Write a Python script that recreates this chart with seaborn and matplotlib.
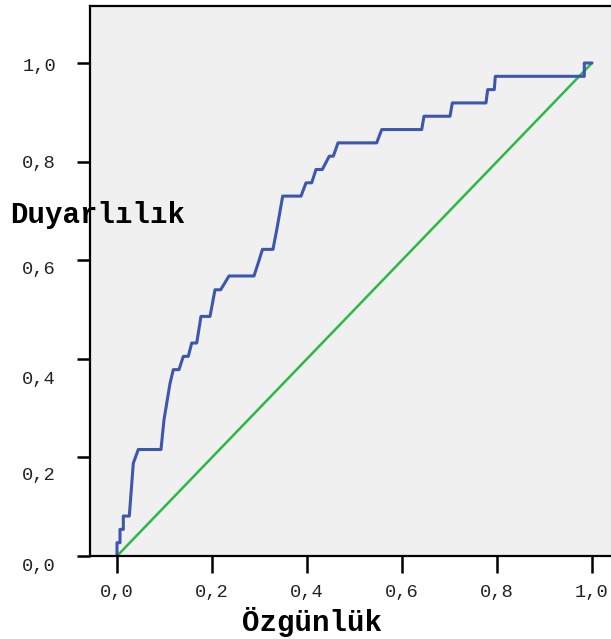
import pandas as pd
import matplotlib.pyplot as plt
import matplotlib.transforms as mtransforms
import seaborn as sns

# ROC curve points (1 - specificity, sensitivity)
fpr = [0.0, 0.0, 0.0063, 0.0063, 0.0133, 0.0133, 0.0259, 0.0343, 0.0448, 0.0926,
       0.0989, 0.1116, 0.1185, 0.1305, 0.1396, 0.1501, 0.1573, 0.1678, 0.1768, 0.1958,
       0.2063, 0.2183, 0.2358, 0.2884, 0.2975, 0.3063, 0.3284, 0.3375, 0.3488, 0.3874,
       0.3979, 0.4099, 0.4189, 0.4322, 0.4469, 0.4554, 0.4653, 0.5467, 0.5573, 0.6415,
       0.6463, 0.7011, 0.7059, 0.7768, 0.7804, 0.7943, 0.7964, 0.9838, 0.9838, 1.0]
tpr = [0.0, 0.027, 0.027, 0.054, 0.054, 0.081, 0.081, 0.188, 0.216, 0.216,
       0.276, 0.350, 0.378, 0.378, 0.405, 0.405, 0.432, 0.432, 0.486, 0.486,
       0.540, 0.540, 0.568, 0.568, 0.595, 0.622, 0.622, 0.668, 0.730, 0.730,
       0.757, 0.757, 0.784, 0.784, 0.811, 0.811, 0.838, 0.838, 0.865, 0.865,
       0.892, 0.892, 0.919, 0.919, 0.946, 0.946, 0.973, 0.973, 1.0, 1.0]
ref_x = [0.0, 1.0]
ref_y = [0.0, 1.0]

ticks = [0.0, 0.2, 0.4, 0.6, 0.8, 1.0]
tick_labels = ['0,0', '0,2', '0,4', '0,6', '0,8', '1,0']

roc = pd.DataFrame({'fpr': fpr, 'tpr': tpr})
ref = pd.DataFrame({'x': ref_x, 'y': ref_y})

sns.set_style('white')
plt.rcParams['font.family'] = ['Liberation Mono', 'DejaVu Sans Mono']

fig = plt.figure(figsize=(6.11, 6.39), dpi=100)
ax = fig.add_axes([90 / 611, 83 / 639, 1 - 90 / 611, 550 / 639])
ax.set_facecolor('#f0f0f0')

sns.lineplot(data=ref, x='x', y='y', sort=False, estimator=None,
             color='#2cb845', linewidth=1.8, ax=ax)
sns.lineplot(data=roc, x='fpr', y='tpr', sort=False, estimator=None,
             color='#3d56ae', linewidth=2.2, ax=ax)

ax.set_xlim(-27 / 475, 494 / 475)
ax.set_ylim(0, 550 / 493)

ax.set_xticks(ticks)
ax.set_xticklabels(tick_labels)
ax.set_yticks(ticks)
ax.set_yticklabels(tick_labels)
ax.set_xlabel('')
ax.set_ylabel('')

for side in ['left', 'bottom', 'top']:
    ax.spines[side].set_color('black')
    ax.spines[side].set_linewidth(1.6)
ax.spines['right'].set_visible(False)

ax.tick_params(axis='x', direction='out', length=12, width=1.8, pad=8,
               labelsize=13.5, colors='black', labelcolor='#222222', bottom=True)
ax.tick_params(axis='y', direction='out', length=9.5, width=1.8, pad=15,
               labelsize=13.5, colors='black', labelcolor='#222222', left=True)

# SPSS places some y tick labels slightly below their ticks
y_offsets = [8, 16, 19, 7, 0, 2]
for lbl, off in zip(ax.get_yticklabels(), y_offsets):
    lbl.set_transform(lbl.get_transform() +
                      mtransforms.ScaledTranslation(0, -off / 100, fig.dpi_scale_trans))

fig.text(10 / 611, 1 - 215 / 639, 'Duyarlılık', ha='left', va='center',
         fontsize=21, fontweight='bold', color='black')
fig.text(312 / 611, 1 - 622 / 639, 'Özgünlük', ha='center', va='center',
         fontsize=21, fontweight='bold', color='black')

fig.savefig('out.png', dpi=100)
plt.close()
